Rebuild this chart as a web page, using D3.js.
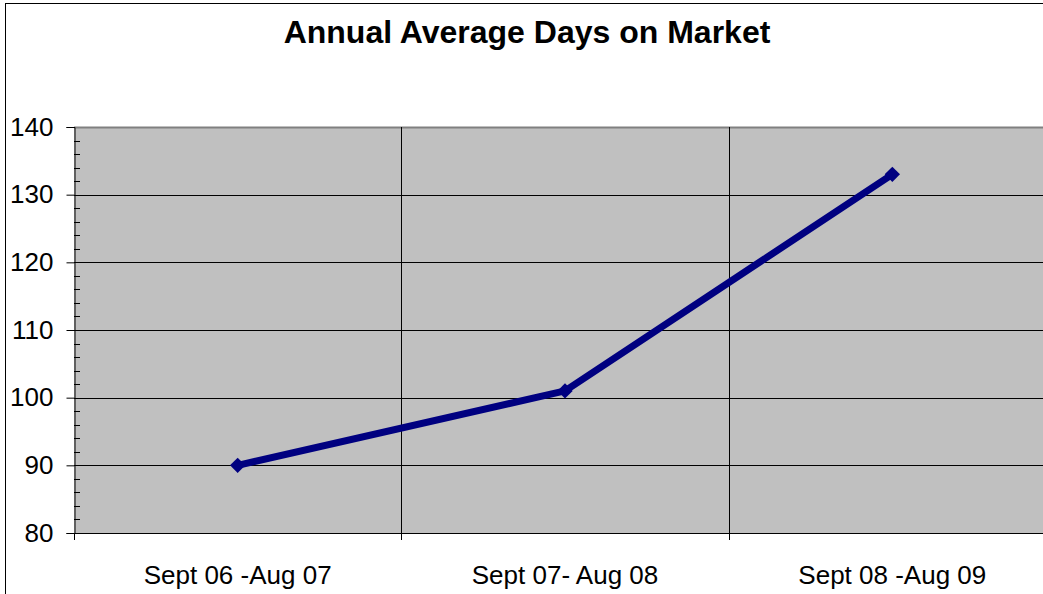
<!DOCTYPE html>
<html>
<head>
<meta charset="utf-8">
<script src="https://cdn.jsdelivr.net/npm/d3@7"></script>
<style>
  body { margin: 0; background: #fff; }
  svg { display: block; font-family: Arial, "Liberation Sans", sans-serif; }
</style>
</head>
<body>
<div id="chart"></div>
<script>
const categories = ["Sept 06 -Aug 07", "Sept 07- Aug 08", "Sept 08 -Aug 09"];
const values = [90, 101, 133];
const yTicks = [80, 90, 100, 110, 120, 130, 140];

const width = 1043;
const height = 594;
const plot = { left: 74, right: 1056, top: 127, bottom: 533 };

const svg = d3.select("#chart").append("svg")
    .attr("width", width)
    .attr("height", height);

// chart frame
svg.append("rect")
    .attr("x", 5.5).attr("y", 3.5)
    .attr("width", width + 10).attr("height", height + 10)
    .attr("fill", "#fff")
    .attr("stroke", "#000")
    .attr("stroke-width", 1);

svg.append("text")
    .attr("x", 527).attr("y", 43)
    .attr("text-anchor", "middle")
    .attr("font-size", 32)
    .attr("font-weight", "bold")
    .text("Annual Average Days on Market");

const x = d3.scaleBand().domain(categories).range([plot.left, plot.right]);
const y = d3.scaleLinear().domain([80, 140]).range([plot.bottom, plot.top]);

svg.append("rect")
    .attr("x", plot.left).attr("y", plot.top)
    .attr("width", plot.right - plot.left).attr("height", plot.bottom - plot.top)
    .attr("fill", "#c0c0c0");

// top border of plot area
svg.append("line")
    .attr("x1", plot.left).attr("x2", plot.right)
    .attr("y1", plot.top + 0.5).attr("y2", plot.top + 0.5)
    .attr("stroke", "#808080").attr("stroke-width", 2);

// horizontal gridlines
svg.append("g").selectAll("line")
    .data(yTicks.slice(1, -1))
    .join("line")
    .attr("x1", plot.left).attr("x2", plot.right)
    .attr("y1", d => Math.round(y(d)) + 0.5).attr("y2", d => Math.round(y(d)) + 0.5)
    .attr("stroke", "#000").attr("stroke-width", 1);

// vertical gridlines at category boundaries
svg.append("g").selectAll("line")
    .data(categories.slice(1))
    .join("line")
    .attr("x1", d => Math.round(x(d)) + 0.5).attr("x2", d => Math.round(x(d)) + 0.5)
    .attr("y1", plot.top).attr("y2", plot.bottom)
    .attr("stroke", "#000").attr("stroke-width", 1);

// y axis
const yAxis = svg.append("g")
    .attr("transform", `translate(${plot.left + 0.5},0)`)
    .call(d3.axisLeft(y).tickValues(yTicks).tickSize(8).tickPadding(13));
yAxis.select(".domain").attr("stroke", "#000");
yAxis.selectAll("text").attr("font-size", 26).attr("fill", "#000")
    .attr("font-family", "Arial, 'Liberation Sans', sans-serif");

// minor ticks inside
const minor = d3.range(80, 141, 2).filter(v => v % 10 !== 0);
svg.append("g").selectAll("line")
    .data(minor)
    .join("line")
    .attr("x1", plot.left).attr("x2", plot.left + 6)
    .attr("y1", d => Math.round(y(d)) + 0.5).attr("y2", d => Math.round(y(d)) + 0.5)
    .attr("stroke", "#000");

// x axis
svg.append("line")
    .attr("x1", plot.left).attr("x2", plot.right)
    .attr("y1", plot.bottom + 0.5).attr("y2", plot.bottom + 0.5)
    .attr("stroke", "#000");
svg.append("g").selectAll("line")
    .data(categories.slice(1).map(d => x(d)).concat([plot.left]))
    .join("line")
    .attr("x1", d => Math.round(d) + 0.5).attr("x2", d => Math.round(d) + 0.5)
    .attr("y1", plot.bottom).attr("y2", plot.bottom + 7)
    .attr("stroke", "#000");
svg.append("g").selectAll("text")
    .data(categories)
    .join("text")
    .attr("x", d => x(d) + x.bandwidth() / 2)
    .attr("y", 584)
    .attr("text-anchor", "middle")
    .attr("font-size", 26)
    .text(d => d);

// series
const pts = categories.map((c, i) => [x(c) + x.bandwidth() / 2, y(values[i])]);
svg.append("path")
    .attr("d", d3.line()(pts))
    .attr("fill", "none")
    .attr("stroke", "#000080")
    .attr("stroke-width", 7)
    .attr("stroke-linejoin", "round");

svg.append("g").selectAll("path")
    .data(pts)
    .join("path")
    .attr("transform", d => `translate(${d[0]},${d[1]})`)
    .attr("d", d3.symbol(d3.symbolDiamond2, 150)())
    .attr("fill", "#000080");
</script>
</body>
</html>
